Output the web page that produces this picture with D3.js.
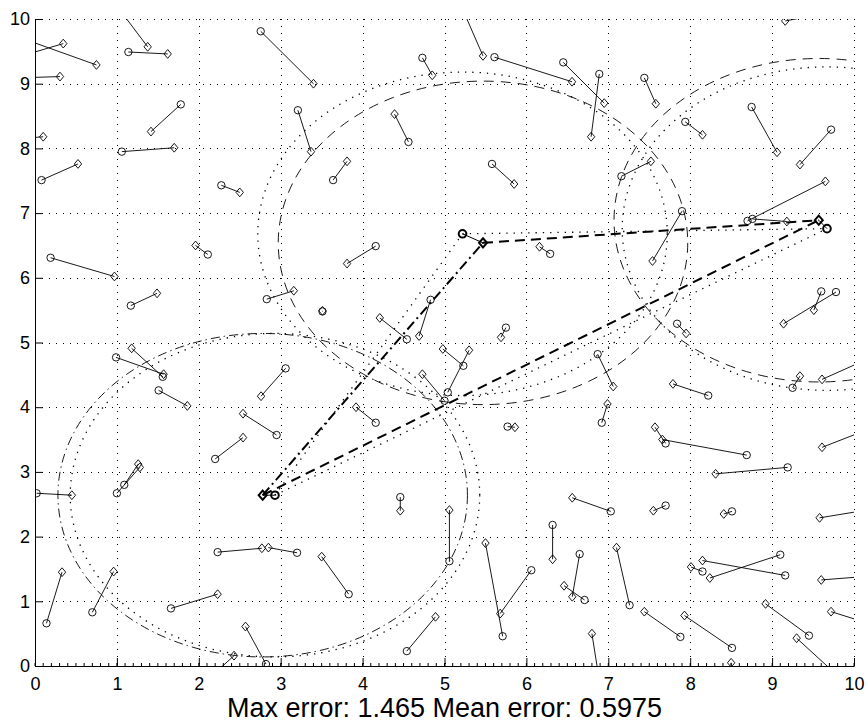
<!DOCTYPE html>
<html>
<head>
<meta charset="utf-8">
<script src="https://cdn.jsdelivr.net/npm/d3@7"></script>
<style>
  body { margin: 0; background: #fff; }
  text { font-family: "Liberation Sans", Arial, sans-serif; }
</style>
</head>
<body>
<div id="chart"></div>
<script>
// estimated positions (circles)
const estX = [
  -0.2, -0.2, -0.2, -0.2, 0.08, 1.0, 1.14, 1.78, 1.06, 2.275,
  2.756, 3.21, 4.73, 5.17, 5.61, 6.45, 4.56, 3.64, 5.58, 9.7,
  6.89, 7.44, 7.94, 8.75, 9.72, 7.16, 8.70, 8.76, 7.90, 7.84,
  9.60, 9.78, 6.87, 8.22, 9.25, 10.3, 6.92, 7.70, 8.69, 10.3,
  9.19, 7.03, 7.70, 8.51, 10.3, 7.26, 9.16, 8.15, 9.10, 10.3,
  6.71, 6.65, 7.88, 8.51, 9.45, 9.93, 10.3, 8.5, 6.9, 4.46,
  5.06, 2.23, 3.20, 3.83, 4.54, 5.71, 6.06, 6.32, 0.02, 1.0,
  1.09, 0.14, 0.70, 1.66, 2.82, 2.03, 0.19, 2.11, 1.17, 2.83,
  0.99, 1.56, 1.51, 3.06, 2.95, 2.20, 4.16, 3.51, 4.54, 4.83,
  5.75, 5.23, 5.04, 5.00, 4.16, 5.77, 6.29
]
const estY = [
  9.415, 9.72, 9.09, 8.15, 7.51, 10.2, 9.49, 8.68, 7.95, 7.43,
  9.81, 8.59, 9.40, 10.3, 9.41, 9.33, 8.10, 7.51, 7.76, 10.1,
  9.15, 9.09, 8.41, 8.64, 8.29, 7.57, 6.88, 6.91, 7.03, 5.29,
  5.79, 5.78, 4.82, 4.18, 4.30, 4.82, 3.76, 3.44, 3.26, 3.72,
  3.07, 2.39, 2.48, 2.39, 2.44, 0.94, 1.40, 1.46, 1.72, 1.40,
  1.02, 1.73, 0.45, 0.28, 0.47, -0.3, 0.61, -0.2, -0.3, 2.61,
  1.62, 1.76, 1.75, 1.11, 0.23, 0.46, 1.48, 2.18, 2.67, 2.67,
  2.80, 0.66, 0.83, 0.89, 0.03, -0.3, 6.31, 6.36, 5.57, 5.67,
  4.77, 4.47, 4.26, 4.60, 3.57, 3.20, 6.49, 5.48, 5.05, 5.66,
  5.23, 4.64, 4.23, 4.10, 3.76, 3.70, 6.37
]
// true positions (diamonds)
const trueX = [
  0.345, 0.75, 0.305, 0.10, 0.525, 1.376, 1.62, 1.416, 1.70, 2.50,
  3.40, 3.37, 4.85, 5.47, 6.557, 6.95, 4.39, 3.81, 5.85, 9.16,
  6.79, 7.58, 8.15, 9.06, 9.34, 7.52, 9.65, 9.18, 7.54, 7.95,
  9.51, 9.14, 7.06, 7.79, 9.34, 9.61, 6.99, 7.57, 7.66, 9.61,
  8.31, 6.56, 7.55, 8.41, 9.58, 7.10, 8.15, 8.01, 8.24, 9.60,
  6.46, 6.56, 7.44, 7.93, 8.92, 9.30, 9.72, 8.50, 6.80, 4.46,
  5.06, 2.77, 2.85, 3.50, 4.89, 5.50, 5.68, 6.32, 0.45, 1.28,
  1.26, 0.33, 0.96, 2.23, 2.57, 2.43, 0.97, 1.96, 1.49, 3.16,
  1.57, 1.18, 1.86, 2.76, 2.54, 2.54, 3.81, 3.51, 4.21, 4.69,
  5.69, 4.98, 5.30, 4.73, 3.92, 5.86, 6.16
]
const trueY = [
  9.62, 9.29, 9.11, 8.18, 7.76, 9.57, 9.46, 8.26, 8.01, 7.32,
  9.0, 7.95, 9.13, 9.43, 9.03, 8.70, 8.53, 7.80, 7.45, 9.97,
  8.18, 8.69, 8.21, 7.94, 7.75, 7.80, 7.49, 6.87, 6.26, 5.14,
  5.50, 5.29, 4.32, 4.36, 4.48, 4.43, 4.05, 3.69, 3.50, 3.38,
  2.97, 2.60, 2.40, 2.35, 2.29, 1.83, 1.63, 1.53, 1.36, 1.33,
  1.24, 1.07, 0.84, 0.78, 0.96, 0.43, 0.84, 0.05, 0.50, 2.40,
  2.41, 1.82, 1.83, 1.69, 0.76, 1.90, 0.81, 1.65, 2.64, 3.07,
  3.12, 1.45, 1.46, 1.11, 0.61, 0.16, 6.02, 6.50, 5.76, 5.80,
  4.51, 4.91, 4.02, 4.17, 3.90, 3.53, 6.22, 5.49, 5.38, 5.10,
  5.08, 4.90, 4.88, 4.51, 4.00, 3.69, 6.48
]

// anchors
const anchorTrueX = [2.78, 5.47, 9.57]
const anchorTrueY = [2.64, 6.54, 6.89]
const anchorEstX = [2.93, 5.22, 9.67]
const anchorEstY = [2.64, 6.68, 6.76]
const anchorRadius = [2.5, 2.5, 2.5]

const tickValues = [0, 1, 2, 3, 4, 5, 6, 7, 8, 9, 10]
const maxError = 1.465
const meanError = 0.5975

const margin = { left: 35, right: 14, top: 19, bottom: 58 }
const width = 868 - margin.left - margin.right
const height = 724 - margin.top - margin.bottom

const svg = d3.select('#chart').append('svg')
  .attr('width', 868)
  .attr('height', 724)

const g = svg.append('g')
  .attr('transform', `translate(${margin.left}, ${margin.top})`)

const x = d3.scaleLinear().domain([0, 10]).range([0, width])
const y = d3.scaleLinear().domain([0, 10]).range([height, 0])

g.append('clipPath').attr('id', 'clip')
  .append('rect').attr('width', width).attr('height', height)

// grid
const grid = g.append('g')
  .attr('stroke', '#000')
  .attr('stroke-width', 1)
  .attr('stroke-dasharray', '1,6')
grid.selectAll('.gx').data(tickValues.slice(1)).enter().append('line')
  .attr('x1', d => Math.round(x(d)) + 0.5).attr('x2', d => Math.round(x(d)) + 0.5)
  .attr('y1', 0).attr('y2', height)
grid.selectAll('.gy').data(tickValues.slice(1)).enter().append('line')
  .attr('y1', d => Math.round(y(d)) + 0.5).attr('y2', d => Math.round(y(d)) + 0.5)
  .attr('x1', 0).attr('x2', width)

const plot = g.append('g').attr('clip-path', 'url(#clip)')

const dotted = '1.3,6'

// range circles
const outerDash = ['9,4,1.5,4', '10,7', '10,7']
anchorTrueX.forEach((cx, i) => {
  plot.append('ellipse')
    .attr('cx', x(cx)).attr('cy', y(anchorTrueY[i]))
    .attr('rx', x(anchorRadius[i]) - x(0))
    .attr('ry', y(0) - y(anchorRadius[i]))
    .attr('fill', 'none').attr('stroke', '#000').attr('stroke-width', 0.9)
    .attr('stroke-dasharray', outerDash[i])
  plot.append('ellipse')
    .attr('cx', x(anchorEstX[i])).attr('cy', y(anchorEstY[i]))
    .attr('rx', x(anchorRadius[i]) - x(0))
    .attr('ry', y(0) - y(anchorRadius[i]))
    .attr('fill', 'none').attr('stroke', '#000').attr('stroke-width', 1.3)
    .attr('stroke-dasharray', dotted)
})

// anchor triangles
const sides = [[0, 1], [1, 2], [0, 2]]
const sideDash = ['10,4,2,4', '10,6', '10,6']
sides.forEach(([a, b], i) => {
  plot.append('line')
    .attr('x1', x(anchorTrueX[a])).attr('y1', y(anchorTrueY[a]))
    .attr('x2', x(anchorTrueX[b])).attr('y2', y(anchorTrueY[b]))
    .attr('stroke', '#000').attr('stroke-width', 2)
    .attr('stroke-dasharray', sideDash[i])
  plot.append('line')
    .attr('x1', x(anchorEstX[a])).attr('y1', y(anchorEstY[a]))
    .attr('x2', x(anchorEstX[b])).attr('y2', y(anchorEstY[b]))
    .attr('stroke', '#000').attr('stroke-width', 1.3)
    .attr('stroke-dasharray', dotted)
})

// error segments
const segs = estX.map((d, i) => ({ ex: d, ey: estY[i], tx: trueX[i], ty: trueY[i] }))
plot.selectAll('.seg').data(segs).enter().append('line')
  .attr('x1', d => x(d.ex)).attr('y1', d => y(d.ey))
  .attr('x2', d => x(d.tx)).attr('y2', d => y(d.ty))
  .attr('stroke', '#000').attr('stroke-width', 0.9)

const diamond = (hw, hh) => `M0,${-hh}L${hw},0L0,${hh}L${-hw},0Z`

plot.selectAll('.est').data(segs).enter().append('circle')
  .attr('cx', d => x(d.ex)).attr('cy', d => y(d.ey)).attr('r', 3.7)
  .attr('fill', 'none').attr('stroke', '#000').attr('stroke-width', 0.9)
plot.selectAll('.tru').data(segs).enter().append('path')
  .attr('d', diamond(3.7, 4.4))
  .attr('transform', d => `translate(${x(d.tx)}, ${y(d.ty)})`)
  .attr('fill', 'none').attr('stroke', '#000').attr('stroke-width', 0.9)

// anchors
anchorTrueX.forEach((ax, i) => {
  plot.append('line')
    .attr('x1', x(ax)).attr('y1', y(anchorTrueY[i]))
    .attr('x2', x(anchorEstX[i])).attr('y2', y(anchorEstY[i]))
    .attr('stroke', '#000').attr('stroke-width', 1)
  plot.append('circle')
    .attr('cx', x(anchorEstX[i])).attr('cy', y(anchorEstY[i])).attr('r', 3.8)
    .attr('fill', 'none').attr('stroke', '#000').attr('stroke-width', 2)
  plot.append('path')
    .attr('d', diamond(4, 4.6))
    .attr('transform', `translate(${x(ax)}, ${y(anchorTrueY[i])})`)
    .attr('fill', 'none').attr('stroke', '#000').attr('stroke-width', 2)
})

// axes
const xAxis = g.append('g')
  .attr('transform', `translate(0, ${height})`)
  .call(d3.axisBottom(x).tickValues(tickValues).tickSizeInner(-8).tickSizeOuter(0).tickPadding(11))
const yAxis = g.append('g')
  .call(d3.axisLeft(y).tickValues(tickValues).tickSizeInner(-8).tickSizeOuter(0).tickPadding(5))

xAxis.selectAll('.minor').data(x.ticks(100)).enter().append('line')
  .attr('x1', d => x(d)).attr('x2', d => x(d))
  .attr('y1', 0).attr('y2', -3)
  .attr('stroke', '#000')

;[xAxis, yAxis].forEach(ax => {
  ax.selectAll('text')
    .attr('font-family', '"Liberation Sans", Arial, sans-serif')
    .attr('font-size', 18)
    .attr('fill', '#000')
  ax.select('.domain').attr('stroke', '#000')
})

// caption
g.append('text')
  .attr('x', width / 2)
  .attr('y', height + 51)
  .attr('text-anchor', 'middle')
  .attr('font-size', 27)
  .attr('fill', '#000')
  .text(`Max error: ${maxError} Mean error: ${meanError}`)
</script>
</body>
</html>
